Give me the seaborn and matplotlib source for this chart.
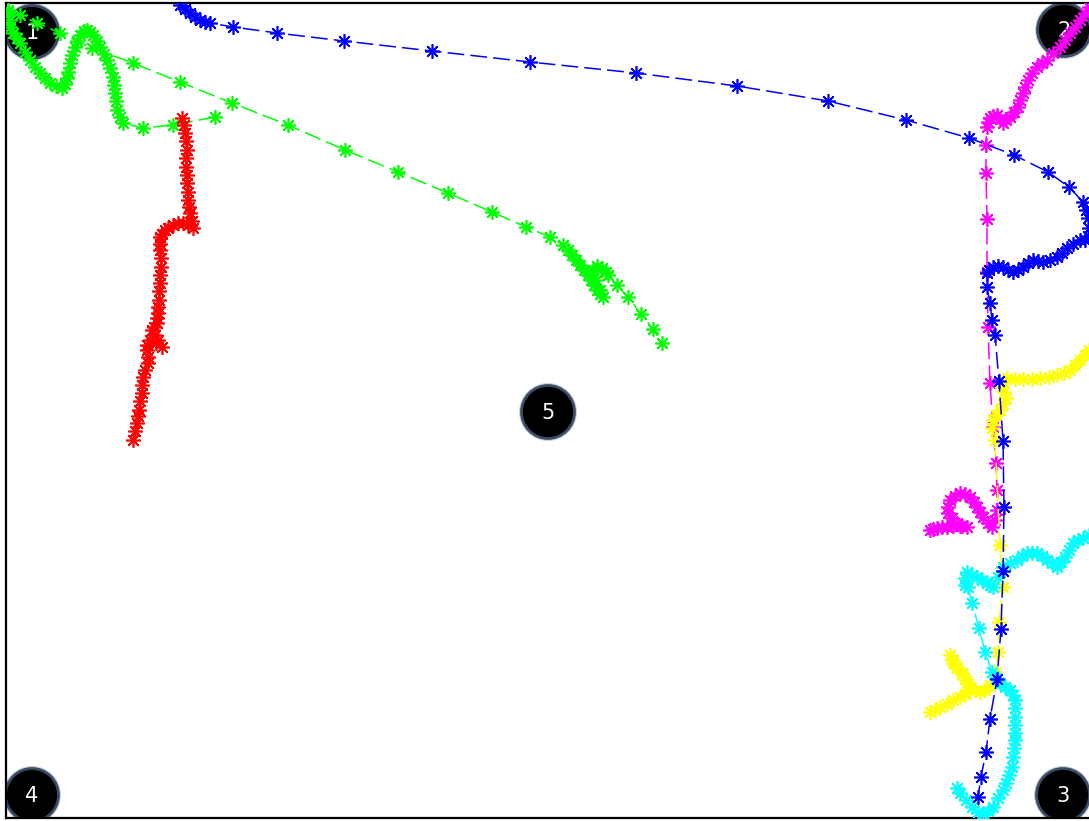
import matplotlib
matplotlib.use("Agg")
import matplotlib.pyplot as plt
import seaborn as sns
import pandas as pd
from matplotlib.patches import Circle

sns.set_style("white")
plt.rcParams['font.family'] = ['DejaVu Sans']

# trayectorias (coordenadas en pixeles del mapa, y hacia abajo)
green_sparse = [(8, 12), (20, 15), (37, 23), (60, 33), (92, 48), (133, 63), (180, 82), (232, 103),
                (288, 125), (345, 150), (398, 172), (448, 193), (492, 212), (526, 227), (550, 237),
                (563, 245), (568, 250), (572, 255), (576, 260), (580, 265), (584, 270), (588, 275),
                (591, 280), (594, 285), (597, 290), (600, 294), (603, 297), (600, 290), (596, 280),
                (593, 270), (597, 266), (602, 268), (606, 272), (608, 275), (617, 285), (628, 297),
                (641, 314), (653, 329), (662, 343)]

green_dense = [(8, 10), (10, 20), (10, 27), (13, 33), (17, 38), (20, 43), (25, 52), (30, 60), (35, 67),
               (40, 73), (45, 78), (50, 83), (56, 86), (62, 88), (65, 84), (67, 78), (68, 72), (70, 63),
               (72, 55), (75, 47), (77, 41), (80, 35), (84, 31), (87, 30), (90, 32), (93, 35), (97, 41),
               (100, 47), (104, 54), (107, 60), (110, 68), (113, 77), (114, 85), (115, 93), (116, 101),
               (117, 110), (120, 117), (123, 123), (143, 128), (173, 125), (215, 117)]

red_path = [(182, 118), (184, 125), (185, 133), (186, 141), (187, 150), (186, 158), (186, 167),
            (187, 175), (187, 183), (188, 192), (188, 200), (189, 207), (190, 213), (192, 221),
            (193, 228), (188, 225), (183, 223), (178, 223), (173, 225), (168, 228), (165, 230),
            (162, 234), (160, 237), (160, 244), (160, 250), (161, 258), (161, 267), (160, 275),
            (160, 283), (159, 291), (159, 300), (158, 307), (158, 313), (157, 318), (157, 323),
            (154, 327), (152, 330), (155, 335), (158, 340), (162, 347), (156, 343), (150, 340),
            (147, 345), (147, 350), (148, 357), (148, 363), (145, 370), (143, 377), (142, 385),
            (142, 393), (140, 401), (139, 410), (138, 416), (137, 423), (135, 431), (133, 440)]

magenta_path = [(1089, 7), (1085, 13), (1080, 20), (1075, 27), (1070, 33), (1065, 40), (1060, 47),
                (1053, 53), (1047, 60), (1042, 63), (1037, 67), (1032, 73), (1028, 80), (1025, 87),
                (1023, 93), (1020, 100), (1018, 107), (1014, 112), (1010, 117), (1006, 120),
                (1003, 123), (1000, 119), (997, 115), (993, 116), (990, 118), (988, 122), (987, 127),
                (986, 145), (986, 173), (987, 219), (987, 272), (988, 327), (990, 383), (993, 427),
                (996, 463), (997, 490), (997, 510), (995, 520), (992, 527), (988, 523), (983, 517),
                (980, 512), (977, 507), (974, 502), (970, 497), (965, 494), (960, 493), (955, 496),
                (950, 500), (948, 507), (948, 513), (952, 518), (957, 523), (962, 526), (967, 527),
                (960, 526), (953, 526), (947, 527), (942, 527), (937, 528), (933, 529), (930, 530)]

yellow_path = [(1089, 350), (1085, 355), (1080, 360), (1075, 365), (1070, 370), (1064, 373),
               (1057, 375), (1049, 377), (1040, 378), (1032, 379), (1023, 379), (1015, 379),
               (1007, 378), (1003, 382), (1002, 387), (1004, 392), (1006, 398), (1003, 404),
               (1000, 410), (996, 415), (993, 420), (992, 428), (995, 440), (1000, 545), (1003, 587),
               (999, 622), (998, 652), (995, 672), (990, 685), (985, 690), (980, 692), (975, 690),
               (970, 687), (966, 680), (962, 673), (957, 668), (953, 663), (950, 655), (953, 660),
               (957, 667), (962, 674), (967, 683), (970, 690), (965, 694), (960, 697), (953, 700),
               (947, 704), (940, 707), (935, 710), (930, 712)]

cyan_path = [(1089, 535), (1083, 538), (1078, 540), (1073, 543), (1069, 550), (1065, 557), (1061, 562),
             (1057, 567), (1052, 563), (1047, 560), (1042, 556), (1037, 553), (1032, 553), (1027, 553),
             (1022, 556), (1017, 560), (1010, 563), (1003, 567), (998, 577), (993, 587), (990, 585),
             (987, 583), (982, 580), (977, 577), (972, 575), (967, 572), (965, 578), (965, 585),
             (968, 587), (972, 603), (979, 628), (985, 652), (992, 672), (996, 678), (1000, 683),
             (1005, 687), (1010, 690), (1013, 695), (1015, 700), (1015, 708), (1015, 717), (1015, 725),
             (1015, 733), (1015, 740), (1014, 748), (1013, 757), (1012, 767), (1009, 775), (1006, 783),
             (1003, 790), (998, 798), (993, 807), (988, 811), (983, 815), (978, 812), (972, 807),
             (966, 800), (960, 793), (957, 788)]

blue_path = [(180, 5), (185, 9), (190, 13), (195, 17), (200, 20), (205, 22), (210, 23), (233, 27),
             (277, 33), (344, 41), (432, 51), (530, 62), (636, 73), (737, 86), (828, 101), (906, 120),
             (969, 138), (1014, 155), (1048, 172), (1069, 187), (1083, 202), (1086, 210), (1088, 218),
             (1089, 228), (1088, 236), (1085, 240), (1080, 240), (1073, 244), (1067, 248), (1062, 253),
             (1057, 257), (1050, 260), (1043, 262), (1038, 261), (1033, 260), (1028, 263), (1023, 267),
             (1018, 270), (1013, 272), (1008, 270), (1003, 267), (998, 266), (993, 267), (989, 270),
             (987, 273), (987, 287), (990, 303), (992, 320), (995, 335), (999, 381), (1003, 441),
             (1004, 507), (1003, 571), (1001, 629), (997, 679), (990, 719), (986, 752), (981, 777),
             (978, 797)]

# puntos de referencia numerados
marcas_x = [32, 1064, 1063, 32, 548]
marcas_y = [32, 30, 795, 795, 412]
marcas_txt = ["1", "2", "3", "4", "5"]

trayectorias = [
    (green_sparse, "#00ff00"),
    (green_dense, "#00ff00"),
    (red_path, "#ff0000"),
    (magenta_path, "#ff00ff"),
    (yellow_path, "#ffff00"),
    (cyan_path, "#00ffff"),
    (blue_path, "#0000ff"),
]

fig = plt.figure(figsize=(10.89, 8.21), dpi=100)
ax = fig.add_axes([6 / 1089, 3 / 821, 1085 / 1089, 815 / 821])

for (mx, my, t) in zip(marcas_x, marcas_y, marcas_txt):
    ax.add_patch(Circle((mx, my), 29, facecolor="#c9d2de", edgecolor="none", zorder=1))
    ax.add_patch(Circle((mx, my), 26.5, facecolor="#000000", edgecolor="#3b4c63", linewidth=2, zorder=2))
    ax.text(mx, my + 1, t, color="white", fontsize=15, ha="center", va="center", zorder=3)

for path, col in trayectorias:
    df = pd.DataFrame(path, columns=["x", "y"])
    ln = sns.lineplot(data=df, x="x", y="y", sort=False, estimator=None, ax=ax,
                      color=col, linestyle="--", linewidth=1.1,
                      marker=(8, 2, 0), markersize=10.5, markeredgewidth=1.2,
                      markeredgecolor=col, markerfacecolor=col, zorder=4).lines[-1]
    ln.set_dashes((11, 4))

ax.set_xlim(6, 1091)
ax.set_ylim(818, 3)
ax.set_xticks([])
ax.set_yticks([])
ax.set_xlabel("")
ax.set_ylabel("")
for s in ax.spines.values():
    s.set_color("black")
    s.set_linewidth(1.6)

fig.savefig("out.png", dpi=100)
